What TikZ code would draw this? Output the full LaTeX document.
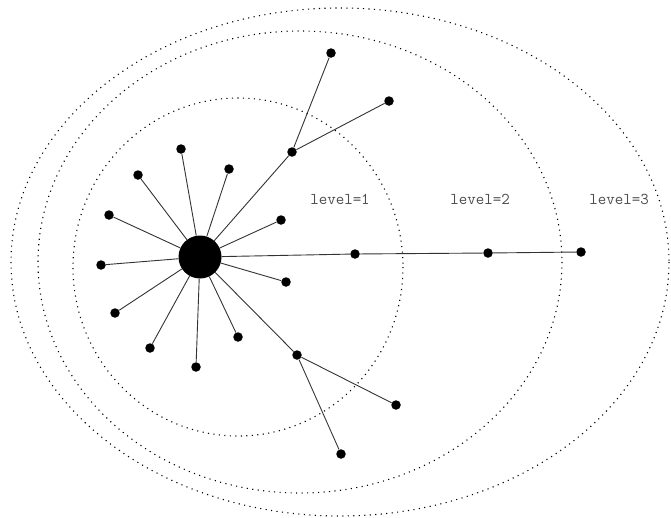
\documentclass[tikz,border=0pt]{standalone}
\begin{document}
\begin{tikzpicture}[x=1pt,y=-1pt,
  leaf/.style={circle,fill=black,inner sep=0pt,minimum size=9.5pt},
  hub/.style={circle,fill=black,inner sep=0pt,minimum size=43pt},
  edge/.style={draw=black!80,line width=0.9pt},
  ring/.style={draw=black,line width=1.1pt,dash pattern=on 1.1pt off 4.4pt},
  lvl/.style={font=\ttfamily\fontsize{16.5}{18}\selectfont,text=black!70,inner sep=0pt}]
\useasboundingbox (0,0) rectangle (671,517);
\draw[ring] (238,267) ellipse [x radius=165,y radius=169];
\draw[ring] (300,262) ellipse [x radius=262,y radius=231];
\draw[ring] (340,262) ellipse [x radius=329,y radius=254];
\node[hub] (c) at (200,257) {};
\node[leaf] (a1) at (292,152) {};
\node[leaf] (a1a) at (331,53) {};
\node[leaf] (a1b) at (389,101) {};
\node[leaf] (a2) at (181,149) {};
\node[leaf] (a3) at (229,169) {};
\node[leaf] (a4) at (138,175) {};
\node[leaf] (a5) at (281,220) {};
\node[leaf] (a6) at (109,215) {};
\node[leaf] (a7) at (101,265) {};
\node[leaf] (a8) at (355,254) {};
\node[leaf] (a8a) at (488,253) {};
\node[leaf] (a8b) at (581,252) {};
\node[leaf] (a9) at (286,282) {};
\node[leaf] (a10) at (115,313) {};
\node[leaf] (a11) at (150,348) {};
\node[leaf] (a12) at (238,337) {};
\node[leaf] (a13) at (196,367) {};
\node[leaf] (a14) at (297,355) {};
\node[leaf] (a14a) at (396,405) {};
\node[leaf] (a14b) at (341,454) {};
\foreach \n in {a1,a2,a3,a4,a5,a6,a7,a8,a9,a10,a11,a12,a13,a14}
  \draw[edge] (c) -- (\n);
\draw[edge] (a1) -- (a1a);
\draw[edge] (a1) -- (a1b);
\draw[edge] (a8) -- (a8a);
\draw[edge] (a8a) -- (a8b);
\draw[edge] (a14) -- (a14a);
\draw[edge] (a14) -- (a14b);
\node[lvl] (l1) at (340,199) {level=1};
\node[lvl] (l2) at (480,199) {level=2};
\node[lvl] (l3) at (619,199) {level=3};
\end{tikzpicture}
\end{document}
